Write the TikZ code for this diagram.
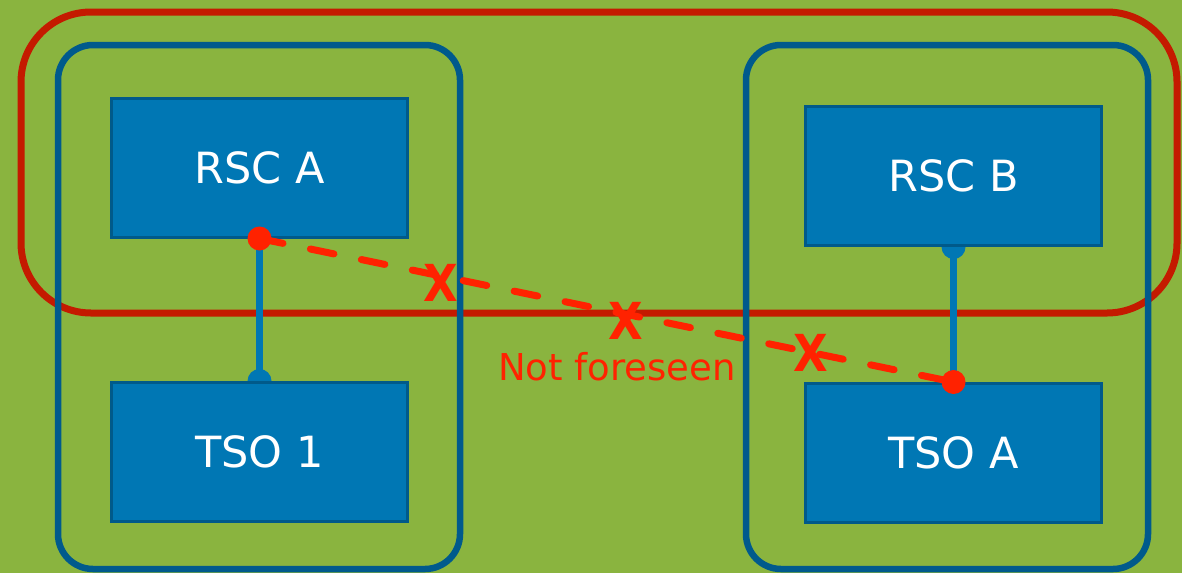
\documentclass[tikz,border=0pt]{standalone}
\usepackage{fontspec}
\setmainfont{DejaVu Sans}
\usetikzlibrary{positioning,backgrounds}
\definecolor{meadow}{HTML}{8AB43F}
\definecolor{regionred}{HTML}{C41A00}
\definecolor{alarmred}{HTML}{FF2200}
\definecolor{siteblue}{HTML}{005A8C}
\definecolor{boxfill}{HTML}{0077B4}
\definecolor{boxedge}{HTML}{005A8A}
\definecolor{linkblue}{HTML}{0077B4}
\begin{document}
\begin{tikzpicture}
[x=1pt,y=-1pt,
 box/.style={draw=boxedge,fill=boxfill,line width=3pt,minimum width=296pt,minimum height=139pt,inner sep=0pt,text=white,font=\fontsize{43}{50}\selectfont},
 site/.style={draw=siteblue,line width=6.5pt,rounded corners=35pt,minimum width=402pt,minimum height=524pt},
 region/.style={draw=regionred,line width=7pt,rounded corners=70pt,minimum width=1156pt,minimum height=301pt},
 link/.style={draw=linkblue,line width=7pt},
 nolink/.style={draw=alarmred,line width=7pt,line cap=round,dash pattern=on 24pt off 28pt},
 cross/.style={text=alarmred,font=\fontsize{51}{54}\selectfont\bfseries,inner sep=0pt,xscale=0.88},
 note/.style={text=alarmred,font=\fontsize{37}{44}\selectfont,inner sep=0pt}]
\useasboundingbox (0,0) rectangle (1182,573);
\node[box] (rscA) at (259.5,167.5)                          {RSC A};
\node[box] (tso1) [on grid,below=284.5pt of rscA]           {TSO 1};
\node[box] (rscB) [on grid,below right=8.5pt and 694pt of rscA] {RSC B};
\node[box] (tsoA) [on grid,below=277pt of rscB]             {TSO A};
\begin{scope}[on background layer]
\fill[meadow] (0,0) rectangle (1182,573);
\node[region] (rsc)   at (599,162.5) {};
% the crosses sit under the site frames
\node[cross] (x1) at (441,283) {X};
\node[cross] (x2) at (626,321) {X};
\node[cross] (x3) at (811,353) {X};
\node[site]   (siteL) at (259,307)   {};
\node[site]   (siteR) at (947,307)   {};
\path[link] (rscA.south) edge (tso1.north);
\path[link] (rscB.south) edge (tsoA.north);
\fill[linkblue] (tso1.north) circle (12pt);
\fill[linkblue] (rscB.south) circle (12pt);
\end{scope}
\path[nolink] (rscA.south) -- (tsoA.north);
\fill[alarmred] (rscA.south) circle (12pt);
\fill[alarmred] (tsoA.north) circle (12pt);
\node[note,anchor=base] (note) at (617,380) {Not foreseen};
\end{tikzpicture}
\end{document}
